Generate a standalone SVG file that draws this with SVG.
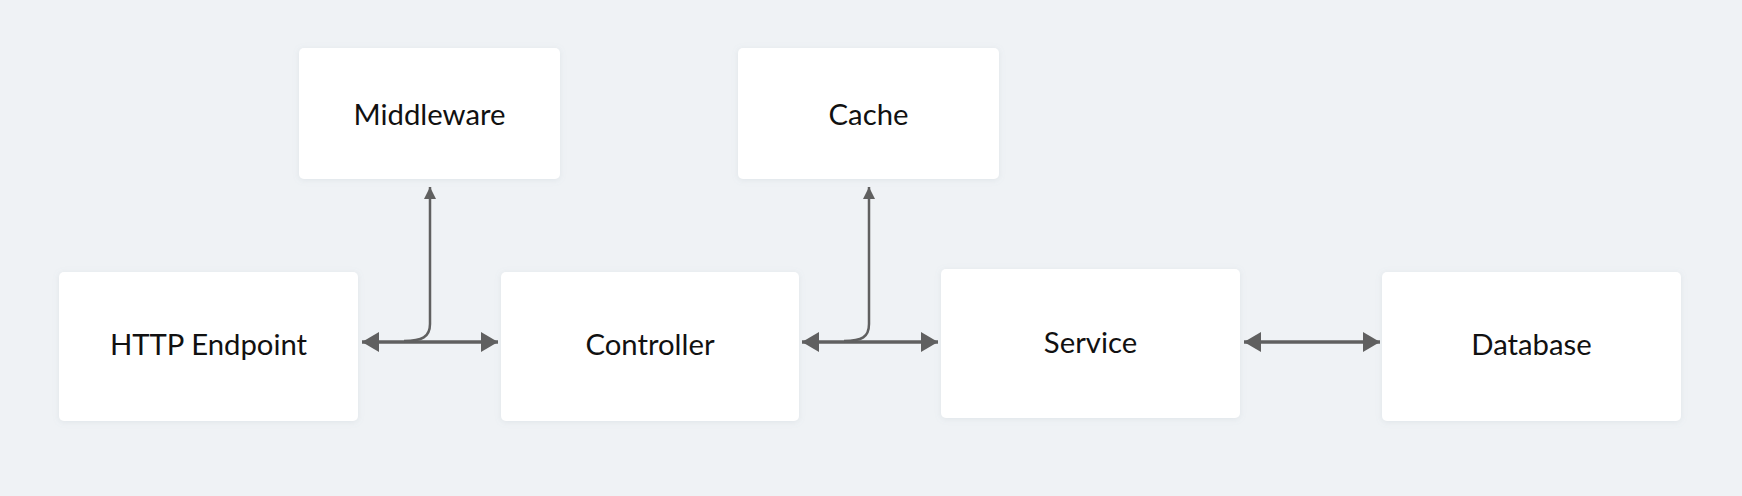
<svg xmlns="http://www.w3.org/2000/svg" width="1742" height="496" viewBox="0 0 1742 496">
  <style>
    .box { fill: #ffffff; filter: url(#sh); }
    .lbl { font-family: Lato, "Liberation Sans", sans-serif; font-size: 29.3px; fill: #111111; text-anchor: middle; }
    .ln { fill: none; stroke: #606060; }
    .h { stroke-width: 3.5; marker-start: url(#ahs); marker-end: url(#ahe); }
    .v { stroke-width: 2.5; marker-end: url(#av); }
  </style>
  <defs>
    <filter id="sh" x="-10%" y="-10%" width="120%" height="130%">
      <feDropShadow dx="0" dy="1" stdDeviation="3" flood-color="#8090a0" flood-opacity="0.15"/>
    </filter>
    <marker id="ahe" markerUnits="userSpaceOnUse" markerWidth="17" markerHeight="20" refX="17" refY="10" orient="auto">
      <path d="M0,0 L17,10 L0,20 Z" fill="#606060"/>
    </marker>
    <marker id="ahs" markerUnits="userSpaceOnUse" markerWidth="17" markerHeight="20" refX="0" refY="10" orient="auto">
      <path d="M17,0 L0,10 L17,20 Z" fill="#606060"/>
    </marker>
    <marker id="av" markerUnits="userSpaceOnUse" markerWidth="12" markerHeight="12" refX="12" refY="6" orient="auto">
      <path d="M0,0 L12,6 L0,12 Z" fill="#606060"/>
    </marker>
  </defs>
  <rect width="1742" height="496" fill="#eff2f5"/>

  <g id="connectors">
    <path class="ln h" d="M362,342 L498,342"/>
    <path class="ln v" d="M404,341 C422,341 430,337 430,324 L430,187"/>
    <path class="ln h" d="M802,342 L938,342"/>
    <path class="ln v" d="M844,341 C862,341 869,337 869,324 L869,187"/>
    <path class="ln h" d="M1244,342 L1380,342"/>
  </g>

  <g id="middleware">
    <rect class="box" x="299" y="48" width="261" height="131" rx="5"/>
    <text class="lbl" x="429.5" y="124.5">Middleware</text>
  </g>
  <g id="cache">
    <rect class="box" x="738" y="48" width="261" height="131" rx="5"/>
    <text class="lbl" x="868.5" y="124.5">Cache</text>
  </g>
  <g id="http-endpoint">
    <rect class="box" x="59" y="272" width="299" height="149" rx="5"/>
    <text class="lbl" x="208.5" y="355">HTTP Endpoint</text>
  </g>
  <g id="controller">
    <rect class="box" x="501" y="272" width="298" height="149" rx="5"/>
    <text class="lbl" x="650" y="355">Controller</text>
  </g>
  <g id="service">
    <rect class="box" x="941" y="269" width="299" height="149" rx="5"/>
    <text class="lbl" x="1090.5" y="352.5">Service</text>
  </g>
  <g id="database">
    <rect class="box" x="1382" y="272" width="299" height="149" rx="5"/>
    <text class="lbl" x="1531.5" y="355">Database</text>
  </g>
</svg>
